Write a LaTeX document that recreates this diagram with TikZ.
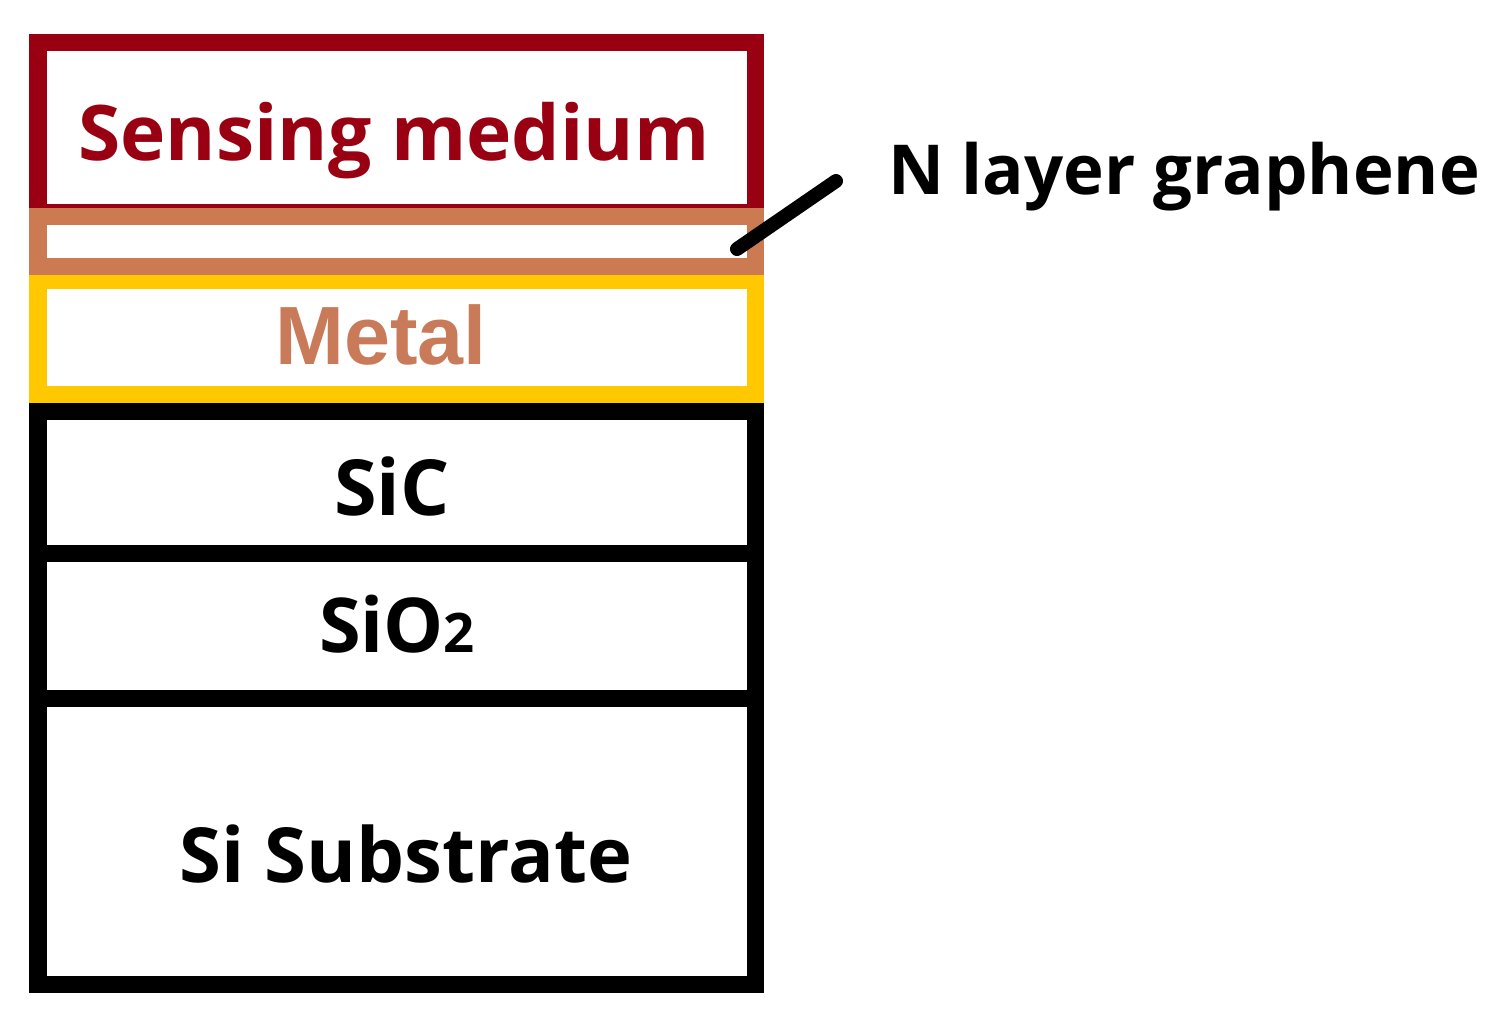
\documentclass[tikz,border=0pt]{standalone}
\usepackage{fontspec}
\setmainfont{Open Sans}
\newfontfamily\metalfont{Liberation Sans}
\usepackage{tikz}
\definecolor{sensered}{HTML}{990012}
\definecolor{grorange}{HTML}{CC7A52}
\definecolor{metalyellow}{HTML}{FFC800}
\definecolor{metaltext}{HTML}{C97A58}

\begin{document}
\begin{tikzpicture}[x=0.01cm, y=-0.01cm,
  layer/.style={line width=0.17cm},
  lbl/.style={anchor=base, inner sep=0pt, font=\bfseries}]
\useasboundingbox (0,0) rectangle (1497,1020);
\draw[layer, sensered] (38,42) rectangle (755,212);
\draw[layer, metalyellow] (38,280) rectangle (755,394);
\draw[layer, black] (38,411) rectangle (755,984);
\draw[layer, black] (38,553) -- (755,553);
\draw[layer, black] (38,698) -- (755,698);
\draw[layer, grorange] (38,216) rectangle (755,266);
\node[lbl, text=sensered, font=\bfseries\fontsize{21.8}{26}\selectfont] (sensing) at (394,160) {Sensing medium};
\node[lbl, text=metaltext, font=\metalfont\bfseries\fontsize{23.5}{28}\selectfont] (metal) at (381,364) {Metal};
\node[lbl, font=\bfseries\fontsize{22}{26}\selectfont] (sic) at (392,515) {SiC};
\node[lbl, font=\bfseries\fontsize{21.5}{25}\selectfont] (sio) at (397,652) {SiO{\fontsize{15.5}{18}\selectfont 2}};
\node[lbl, font=\bfseries\fontsize{21.6}{25}\selectfont] (subs) at (406,882) {Si Substrate};
\node[lbl, font=\bfseries\fontsize{19.6}{24}\selectfont] (graphene) at (1184,194) {N layer graphene};
\coordinate (grtip) at (737,249);
\coordinate (grend) at (836,181);
\draw[line width=0.14cm, line cap=round] (grtip) -- (grend);
\end{tikzpicture}
\end{document}
